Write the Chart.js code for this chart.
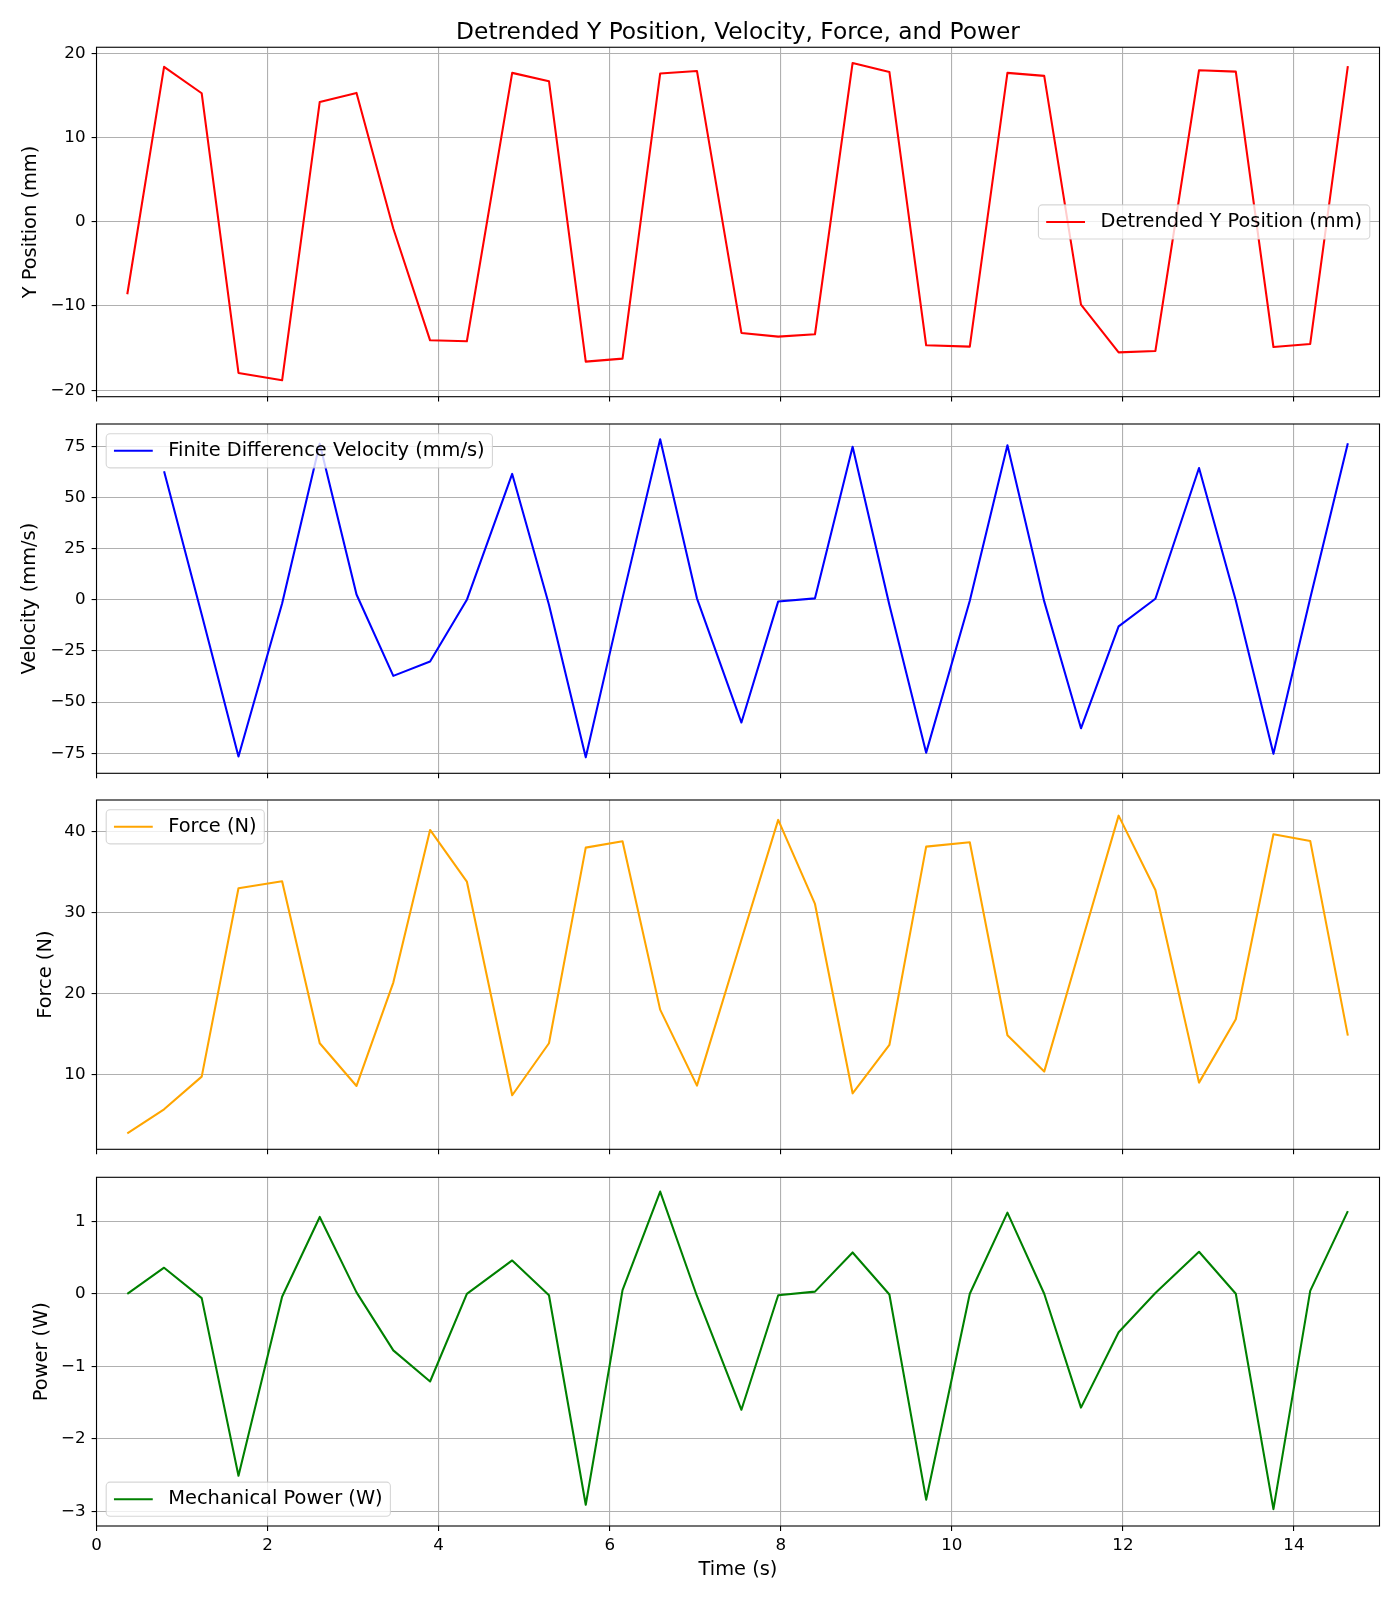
<!DOCTYPE html>
<html>
<head>
<meta charset="utf-8">
<title>Detrended Y Position, Velocity, Force, and Power</title>
<script src="https://cdn.jsdelivr.net/npm/chart.js@4.4.0/dist/chart.umd.min.js"></script>
<style>
  html, body { margin: 0; padding: 0; background: #fff; }
  #figure { position: relative; width: 1400px; height: 1600px; }
  #figure canvas { position: absolute; left: 0; }
</style>
</head>
<body>
<div id="figure">
  <canvas id="posChart" width="1400" height="417" style="top:0px"></canvas>
  <canvas id="velChart" width="1400" height="400" style="top:394px"></canvas>
  <canvas id="forceChart" width="1400" height="400" style="top:770px"></canvas>
  <canvas id="powerChart" width="1400" height="453" style="top:1147px"></canvas>
</div>
<script>
// Values
const time = [0.36, 0.79, 1.23, 1.66, 2.17, 2.61, 3.04, 3.47, 3.90, 4.33, 4.86, 5.29, 5.72, 6.15, 6.59, 7.02, 7.54,
              7.97, 8.40, 8.84, 9.27, 9.70, 10.21, 10.65, 11.08, 11.51, 11.95, 12.38, 12.89, 13.32, 13.76, 14.19, 14.63];

const posY = [-8.6, 18.38, 15.25, -17.94, -18.81, 14.22, 15.29, -0.8, -14.07, -14.18, 17.67, 16.68, -16.6, -16.24, 17.59, 17.9, -13.19,
              -13.63, -13.35, 18.85, 17.78, -14.66, -14.82, 17.67, 17.31, -9.83, -15.5, -15.33, 17.98, 17.82, -14.86, -14.5, 18.46];

const velocity = [null, 62.8, -7.2, -76.6, -1.8, 76.3, 2.6, -37.2, -30.2, 0, 61.5, -2.4, -77, 0.8, 78.4, 0.7, -60,
                  -0.8, 0.7, 74.8, -2.5, -74.7, -0.5, 75.5, -0.8, -62.8, -13, 0.5, 64.4, -0.4, -75.3, 0.8, 76.5];

const force = [2.72, 5.68, 9.71, 32.96, 33.83, 13.83, 8.56, 21.32, 40.16, 33.79, 7.41, 13.83, 37.98, 38.77, 17.98, 8.6, 26.6,
               41.4, 31.03, 7.65, 13.62, 38.1, 38.64, 14.81, 10.33, 26.0, 41.93, 32.76, 8.97, 16.79, 39.63, 38.81, 14.77];

const power = [0, 0.36, -0.06, -2.51, -0.04, 1.06, 0.02, -0.78, -1.21, 0, 0.46, -0.02, -2.91, 0.05, 1.41, -0.03, -1.6,
               -0.02, 0.03, 0.57, -0.01, -2.84, 0, 1.12, 0, -1.57, -0.53, 0.01, 0.58, 0, -2.97, 0.04, 1.14];

// Tick labels and axis limits
const xTicks = [0, 2, 4, 6, 8, 10, 12, 14];
const posTicks = [-20, -10, 0, 10, 20];
const velTicks = [-75, -50, -25, 0, 25, 50, 75];
const forceTicks = [10, 20, 30, 40];
const powerTicks = [-3, -2, -1, 0, 1];

const xRange = [0, 15];
const posRange = [-20.76, 20.71];
const velRange = [-84.8, 85.9];
const forceRange = [0.74, 43.86];
const powerRange = [-3.203, 1.607];

const FONT = "'DejaVu Sans', sans-serif";
const TICK_PX = 16.7, LABEL_PX = 19.4, TITLE_PX = 23.3;

Chart.defaults.font.family = FONT;
Chart.defaults.color = '#000';

function fmtTick(v) {
    return String(v).replace('-', '\u2212');
}

// Black frame on all four sides of the plot area
const framePlugin = {
    id: 'frame',
    afterDatasetsDraw(chart) {
        const a = chart.chartArea, ctx = chart.ctx;
        ctx.save();
        ctx.strokeStyle = '#000';
        ctx.lineWidth = 1.1;
        ctx.strokeRect(a.left, a.top, a.right - a.left, a.bottom - a.top);
        ctx.restore();
    }
};

// Legend box drawn inside the axes, like matplotlib
const boxLegend = {
    id: 'boxLegend',
    afterDraw(chart, args, opts) {
        const ds = chart.data.datasets[0];
        const a = chart.chartArea, ctx = chart.ctx;
        const fs = LABEL_PX;
        ctx.save();
        ctx.font = fs + 'px ' + FONT;
        const tw = ctx.measureText(ds.label).width;
        const pad = 0.4 * fs, hl = 2 * fs, hp = 0.8 * fs, gap = 0.5 * fs;
        const w = pad * 2 + hl + hp + tw, h = 1.76 * fs;
        let x = a.left + gap, y = a.top + gap;
        if (opts.loc.indexOf('right') >= 0) x = a.right - gap - w;
        if (opts.loc.indexOf('lower') === 0) y = a.bottom - gap - h;
        if (opts.loc.indexOf('center') === 0) y = (a.top + a.bottom) / 2 - h / 2;

        ctx.beginPath();
        ctx.roundRect(x, y, w, h, 0.2 * fs);
        ctx.fillStyle = 'rgba(255,255,255,0.8)';
        ctx.fill();
        ctx.strokeStyle = 'rgba(204,204,204,0.8)';
        ctx.lineWidth = 1.1;
        ctx.stroke();

        const cy = y + h / 2;
        ctx.beginPath();
        ctx.moveTo(x + pad, cy);
        ctx.lineTo(x + pad + hl, cy);
        ctx.strokeStyle = ds.borderColor;
        ctx.lineWidth = ds.borderWidth;
        ctx.stroke();

        ctx.fillStyle = '#000';
        ctx.textBaseline = 'middle';
        ctx.textAlign = 'left';
        ctx.fillText(ds.label, x + pad + hl + hp, cy);
        ctx.restore();
    }
};

const gridStyle = { color: '#b0b0b0', lineWidth: 1.1, tickColor: '#000', tickLength: 4.9, tickWidth: 1.1 };

function createPanel(canvasId, p) {
    const ctx = document.getElementById(canvasId);
    new Chart(ctx, {
        type: 'line',
        data: {
            datasets: [{
                label: p.label,
                data: time.map((t, i) => ({ x: t, y: p.values[i] })),
                borderColor: p.color,
                borderWidth: 2.08,
                borderJoinStyle: 'round',
                pointRadius: 0,
                tension: 0,
                fill: false
            }]
        },
        options: {
            responsive: false,
            animation: false,
            events: [],
            layout: { padding: { top: p.padTop, right: 20.5, bottom: 0, left: 0 } },
            plugins: {
                legend: { display: false },
                tooltip: { enabled: false },
                title: p.title ? {
                    display: true,
                    text: p.title,
                    fullSize: false,
                    color: '#000',
                    font: { size: TITLE_PX, weight: 'normal' },
                    padding: { top: 19.2, bottom: 0.1 }
                } : { display: false },
                boxLegend: { loc: p.legendLoc }
            },
            scales: {
                x: {
                    type: 'linear',
                    min: xRange[0],
                    max: xRange[1],
                    afterBuildTicks: s => { s.ticks = xTicks.map(v => ({ value: v })); },
                    afterFit: s => { s.height = p.xAxisHeight; },
                    ticks: { display: p.showX, font: { size: TICK_PX }, padding: 4.5, maxRotation: 0, autoSkip: false, callback: fmtTick },
                    grid: gridStyle,
                    border: { display: false },
                    title: { display: p.showX, text: 'Time (s)', font: { size: LABEL_PX }, padding: { top: 0, bottom: 18.3 } }
                },
                y: {
                    type: 'linear',
                    min: p.range[0],
                    max: p.range[1],
                    afterBuildTicks: s => { s.ticks = p.ticks.map(v => ({ value: v })); },
                    afterFit: s => { s.width = 96.5; },
                    ticks: { font: { size: TICK_PX }, padding: 6, autoSkip: false, callback: fmtTick },
                    grid: gridStyle,
                    border: { display: false },
                    title: { display: true, text: p.yLabel, font: { size: LABEL_PX }, padding: { top: p.yTitlePad, bottom: 0 } }
                }
            }
        },
        plugins: [framePlugin, boxLegend]
    });
}

createPanel('posChart', {
    label: 'Detrended Y Position (mm)', values: posY, color: 'red',
    range: posRange, ticks: posTicks, yLabel: 'Y Position (mm)', yTitlePad: 19.1,
    title: 'Detrended Y Position, Velocity, Force, and Power',
    padTop: 0, xAxisHeight: 20.3, showX: false, legendLoc: 'center right'
});

createPanel('velChart', {
    label: 'Finite Difference Velocity (mm/s)', values: velocity, color: 'blue',
    range: velRange, ticks: velTicks, yLabel: 'Velocity (mm/s)', yTitlePad: 18.3,
    padTop: 30, xAxisHeight: 20.7, showX: false, legendLoc: 'upper left'
});

createPanel('forceChart', {
    label: 'Force (N)', values: force, color: 'orange',
    range: forceRange, ticks: forceTicks, yLabel: 'Force (N)', yTitlePad: 34.1,
    padTop: 30, xAxisHeight: 20.7, showX: false, legendLoc: 'upper left'
});

createPanel('powerChart', {
    label: 'Mechanical Power (W)', values: power, color: 'green',
    range: powerRange, ticks: powerTicks, yLabel: 'Power (W)', yTitlePad: 30.3,
    padTop: 30.3, xAxisHeight: 74, showX: true, legendLoc: 'lower left'
});
</script>
</body>
</html>
